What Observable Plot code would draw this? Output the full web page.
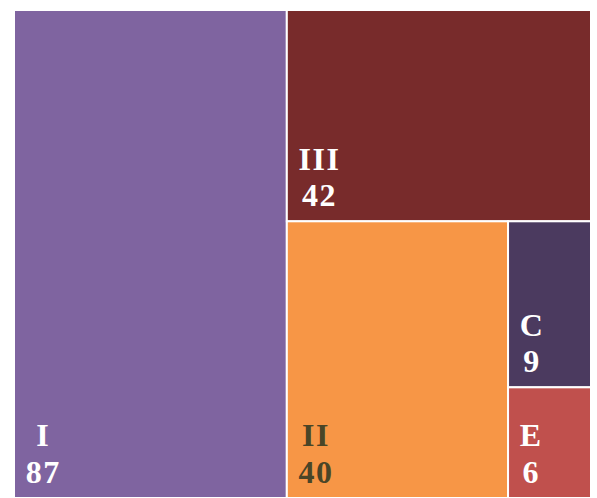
<!DOCTYPE html>
<html>
<head>
<meta charset="utf-8">
<script src="https://cdn.jsdelivr.net/npm/d3@7"></script>
<script src="https://cdn.jsdelivr.net/npm/@observablehq/plot@0.6"></script>
<style>
  html, body { margin: 0; padding: 0; background: #ffffff; }
  #chart { width: 597px; height: 498px; }
</style>
</head>
<body>
<div id="chart"></div>
<script>
// Data
const names = ["I", "III", "II", "C", "E"];
const values = [87, 42, 40, 9, 6];
const fills = ["#7f64a0", "#782b2b", "#f79646", "#4b3a5f", "#c0504d"];
const labelColors = ["#ffffff", "#ffffff", "#4a4527", "#ffffff", "#ffffff"];

const W = 597, H = 498;
const mL = 14, mR = 6, mT = 10, mB = 0;
const PW = W - mL - mR, PH = H - mT - mB;
const FS = 32, LS = 1.5;
const FONT = `bold ${FS}px 'Liberation Serif', serif`;

const root = d3.hierarchy({children: names.map((n, i) => ({name: n, value: values[i], i}))})
  .sum(d => d.value || 0)
  .sort((a, b) => b.value - a.value);
d3.treemap().tile(d3.treemapSquarify.ratio(1)).size([PW, PH]).round(false)(root);

const ctx = document.createElement("canvas").getContext("2d");
ctx.font = FONT;
const measure = s => ctx.measureText(s).width + LS * (s.length - 1);
const tiles = root.leaves().map(l => {
  const d = l.data;
  const bw = Math.max(measure(d.name), measure(String(d.value)));
  return {
    name: d.name, value: d.value, fill: fills[d.i], color: labelColors[d.i],
    x0: l.x0, x1: l.x1, y0: l.y0, y1: l.y1,
    lx: l.x0 + 12 + bw / 2,
    ly: l.y1 - 16,
    label: d.name + "\n" + d.value
  };
});

const chart = Plot.plot({
  width: W, height: H,
  marginLeft: mL, marginRight: mR, marginTop: mT, marginBottom: mB,
  x: {domain: [0, PW], axis: null},
  y: {domain: [0, PH], range: [mT, H - mB], axis: null},
  style: {background: "#ffffff", letterSpacing: LS + "px"},
  marks: [
    Plot.rect(tiles, {x1: "x0", x2: "x1", y1: "y0", y2: "y1", fill: d => d.fill, stroke: "#ffffff", strokeWidth: 2}),
    Plot.text(tiles, {
      x: "lx", y: "ly", text: "label", fill: d => d.color,
      textAnchor: "middle", lineAnchor: "bottom", lineHeight: 1.13,
      fontSize: FS, fontWeight: "bold", fontFamily: "'Liberation Serif', serif"
    })
  ]
});
document.getElementById("chart").appendChild(chart);
</script>
</body>
</html>
